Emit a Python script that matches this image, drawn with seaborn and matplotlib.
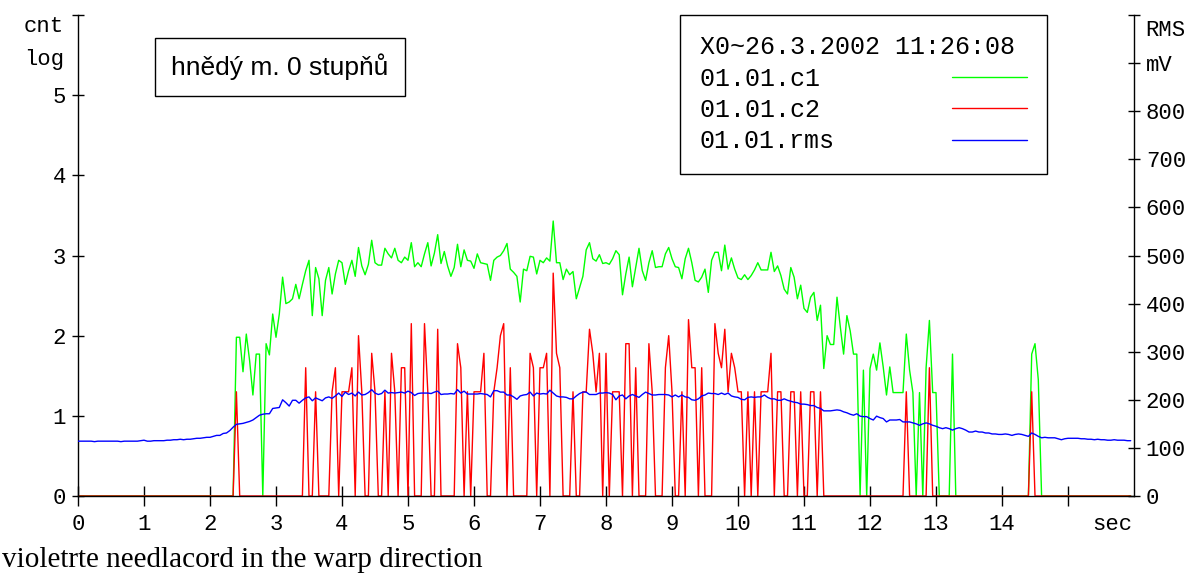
import numpy as np
import pandas as pd
import matplotlib
matplotlib.use("Agg")
import matplotlib.pyplot as plt
import seaborn as sns

# vzorkovani 0.05 s, jeden radek = jedna sekunda
dt = 0.05

# 01.01.c1 (log pocet)
c1 = [
    0, 0, 0, 0, 0, 0, 0, 0, 0, 0, 0, 0, 0, 0, 0, 0, 0, 0, 0, 0,
    0, 0, 0, 0, 0, 0, 0, 0, 0, 0, 0, 0, 0, 0, 0, 0, 0, 0, 0, 0,
    0, 0, 0, 0, 0, 0, 0, 0, 1.98, 1.98, 1.55, 2.02, 1.69, 1.26, 1.77, 1.77, 0, 1.90, 1.76, 2.27,
    1.98, 2.27, 2.73, 2.40, 2.42, 2.46, 2.64, 2.46, 2.64, 2.81, 2.94, 2.25, 2.85, 2.71, 2.25, 2.69, 2.85, 2.52, 2.77, 2.94,
    2.91, 2.64, 2.81, 2.94, 2.74, 3.10, 2.87, 2.76, 2.89, 3.19, 2.91, 2.88, 2.88, 3.09, 3.02, 2.97, 3.09, 2.94, 2.91, 2.98,
    2.94, 3.16, 2.86, 2.91, 2.86, 3.02, 3.16, 2.87, 3.03, 3.26, 2.90, 3.05, 2.87, 2.74, 2.85, 3.14, 2.86, 3.07, 2.94, 2.93,
    2.84, 3.02, 2.91, 2.90, 2.89, 2.69, 2.94, 2.98, 3.00, 3.06, 3.15, 2.83, 2.79, 2.74, 2.42, 2.83, 2.81, 2.99, 2.98, 2.77,
    2.94, 2.91, 2.97, 2.93, 3.43, 2.91, 2.91, 2.70, 2.83, 2.76, 2.80, 2.46, 2.60, 2.74, 3.07, 3.16, 2.96, 2.93, 3.01, 2.90,
    2.91, 2.89, 2.96, 3.06, 3.01, 2.51, 2.77, 2.98, 2.61, 2.85, 3.09, 2.81, 2.69, 2.91, 3.06, 2.85, 2.86, 2.86, 3.02, 3.10,
    2.96, 2.86, 2.85, 2.71, 2.96, 3.09, 2.91, 2.69, 2.67, 2.73, 2.83, 2.54, 2.94, 3.04, 3.04, 2.81, 3.13, 2.83, 2.97, 2.83,
    2.72, 2.70, 2.76, 2.70, 2.75, 2.82, 2.91, 2.82, 2.82, 2.82, 3.04, 2.80, 2.87, 2.75, 2.58, 2.52, 2.85, 2.73, 2.46, 2.63,
    2.34, 2.29, 2.48, 2.54, 2.19, 2.38, 1.59, 2.00, 1.89, 1.89, 2.48, 2.11, 1.77, 2.25, 2.06, 1.77, 1.77, 0, 1.57, 0,
    1.59, 1.77, 1.57, 1.91, 1.61, 1.26, 1.61, 1.29, 1.29, 1.29, 1.29, 2.02, 1.57, 1.29, 0, 1.29, 0, 1.60, 2.19, 1.29,
    1.29, 0, 0, 0, 0, 1.77, 0, 0, 0, 0, 0, 0, 0, 0, 0, 0, 0, 0, 0, 0,
    0, 0, 0, 0, 0, 0, 0, 0, 0, 1.77, 1.90, 1.45, 0, 0, 0, 0, 0, 0, 0, 0,
    0, 0, 0, 0, 0, 0, 0, 0, 0, 0, 0, 0, 0, 0, 0, 0, 0, 0, 0, 0,
]

# 01.01.c2 (log pocet)
c2 = [
    0, 0, 0, 0, 0, 0, 0, 0, 0, 0, 0, 0, 0, 0, 0, 0, 0, 0, 0, 0,
    0, 0, 0, 0, 0, 0, 0, 0, 0, 0, 0, 0, 0, 0, 0, 0, 0, 0, 0, 0,
    0, 0, 0, 0, 0, 0, 0, 0, 1.30, 0, 0, 0, 0, 0, 0, 0, 0, 0, 0, 0,
    0, 0, 0, 0, 0, 0, 0, 0, 0, 1.60, 0, 0, 1.30, 0, 0, 0, 0, 1.30, 1.60, 0,
    1.30, 1.30, 1.30, 1.60, 0, 2.00, 1.30, 0, 0, 1.78, 1.30, 0, 0, 1.30, 0, 1.78, 1.30, 0, 1.60, 1.60,
    0, 2.15, 0, 0, 0, 2.15, 1.30, 0, 0, 2.08, 0, 0, 0, 0, 0, 1.90, 1.60, 0, 1.30, 0,
    1.30, 1.30, 1.30, 1.78, 0, 0, 1.30, 1.60, 2.00, 2.15, 0, 1.60, 0, 0, 0, 0, 0, 1.78, 1.60, 0,
    1.60, 1.60, 1.78, 0, 2.78, 1.78, 1.60, 0, 0, 0, 1.30, 0, 0, 1.30, 1.30, 2.08, 1.78, 1.30, 1.78, 0,
    1.78, 0, 1.30, 1.30, 1.30, 0, 1.90, 1.90, 0, 1.60, 0, 0, 0, 1.90, 1.30, 0, 0, 0, 1.60, 2.00,
    1.30, 0, 0, 1.30, 0, 2.20, 1.60, 1.60, 0, 1.60, 0, 0, 0, 2.15, 1.78, 1.60, 2.08, 1.30, 1.78, 1.60,
    1.30, 1.30, 0, 1.30, 0, 1.30, 0, 1.30, 1.30, 1.30, 1.78, 0, 1.30, 1.30, 0, 0, 1.30, 1.30, 0, 1.30,
    0, 0, 1.30, 1.30, 0, 1.30, 0, 0, 0, 0, 0, 0, 0, 0, 0, 0, 0, 0, 0, 0,
    0, 0, 0, 0, 0, 0, 0, 0, 0, 0, 0, 1.30, 0, 0, 0, 0, 0, 0, 1.60, 0,
    0, 0, 0, 0, 0, 0, 0, 0, 0, 0, 0, 0, 0, 0, 0, 0, 0, 0, 0, 0,
    0, 0, 0, 0, 0, 0, 0, 0, 0, 1.30, 0, 0, 0, 0, 0, 0, 0, 0, 0, 0,
    0, 0, 0, 0, 0, 0, 0, 0, 0, 0, 0, 0, 0, 0, 0, 0, 0, 0, 0, 0,
]

# 01.01.rms (mV)
rms = [
    114, 114, 114, 114, 114, 113, 114, 114, 114, 114, 114, 114, 114, 113, 114, 114, 114, 114, 114, 115,
    116, 114, 114, 115, 115, 115, 115, 116, 116, 117, 117, 118, 117, 118, 118, 119, 120, 120, 121, 122,
    122, 124, 126, 126, 130, 131, 136, 143, 149, 150, 151, 153, 155, 158, 163, 168, 170, 171, 171, 182,
    183, 184, 200, 194, 187, 199, 199, 193, 199, 204, 206, 198, 204, 201, 198, 204, 206, 203, 208, 214,
    207, 216, 211, 214, 208, 216, 210, 211, 215, 221, 214, 211, 213, 220, 214, 215, 214, 215, 216, 214,
    218, 215, 209, 213, 214, 214, 214, 213, 216, 218, 211, 212, 212, 213, 212, 221, 214, 218, 212, 212,
    212, 212, 213, 212, 211, 206, 219, 219, 216, 216, 210, 210, 206, 201, 208, 210, 211, 216, 208, 214,
    212, 213, 212, 220, 214, 208, 206, 206, 205, 202, 202, 208, 213, 216, 216, 211, 211, 211, 214, 214,
    215, 214, 211, 200, 208, 210, 202, 208, 211, 208, 205, 211, 216, 213, 210, 210, 211, 211, 211, 210,
    206, 210, 206, 210, 206, 205, 200, 199, 202, 208, 210, 214, 213, 213, 211, 214, 211, 214, 208, 206,
    205, 201, 200, 205, 206, 205, 206, 206, 210, 205, 202, 202, 199, 199, 202, 199, 197, 195, 194, 191,
    191, 190, 188, 188, 184, 182, 177, 177, 177, 178, 179, 178, 175, 173, 170, 168, 171, 166, 165, 165,
    161, 158, 166, 163, 161, 154, 158, 158, 158, 159, 154, 154, 154, 152, 150, 147, 150, 152, 150, 147,
    145, 142, 140, 142, 140, 137, 140, 142, 140, 137, 133, 133, 135, 133, 133, 131, 131, 129, 129, 128,
    128, 129, 128, 126, 128, 129, 128, 126, 124, 131, 128, 124, 121, 122, 121, 121, 121, 119, 117, 119,
    120, 120, 120, 120, 119, 119, 118, 118, 117, 118, 117, 117, 116, 116, 117, 116, 116, 116, 115, 115,
]

x_labels = [str(i) for i in range(15)] + ['']
left_labels = ['0', '1', '2', '3', '4', '5', '']
right_labels = ['0', '100', '200', '300', '400', '500', '600', '700', '800', 'mV', '']
series_names = ['01.01.c1 ', '01.01.c2 ', '01.01.rms']

df = pd.DataFrame({'sec': np.arange(len(rms)) * dt, 'c1': c1, 'c2': c2, 'rms': rms})

sns.set_theme(style="white")
plt.rcParams['font.family'] = ['Liberation Mono', 'DejaVu Sans']
plt.rcParams.update({'axes.edgecolor': 'black', 'xtick.color': 'black', 'ytick.color': 'black',
                     'text.color': 'black', 'axes.labelcolor': 'black', 'axes.linewidth': 1.0})

fig = plt.figure(figsize=(11.96, 5.79), dpi=100)
ax = fig.add_axes([78 / 1196, 83 / 579, 1056 / 1196, 481 / 579])
ax2 = ax.twinx()

sns.lineplot(data=df, x='sec', y='c1', ax=ax, color='#00ff00', lw=1.0, estimator=None, legend=False)
sns.lineplot(data=df, x='sec', y='c2', ax=ax, color='#ff0000', lw=1.0, estimator=None, legend=False)
sns.lineplot(data=df, x='sec', y='rms', ax=ax2, color='#0000ff', lw=1.0, estimator=None, legend=False)

ax.set_xlim(0, 16)
ax.set_ylim(0, 6)
ax2.set_ylim(0, 1000)
ax.set_xticks(range(16))
ax.set_xticklabels(x_labels)
ax.set_yticks(range(7))
ax.set_yticklabels(left_labels)
ax2.set_yticks(range(0, 1001, 100))
ax2.set_yticklabels(right_labels)
for a in (ax, ax2):
    a.set_xlabel('')
    a.set_ylabel('')
    a.spines['top'].set_visible(False)
ax.spines['right'].set_visible(False)
ax2.spines['left'].set_visible(False)
ax2.spines['bottom'].set_visible(False)

ax.tick_params(axis='x', bottom=True, direction='inout', length=14, width=1, labelsize=16, pad=6)
ax.tick_params(axis='y', left=True, direction='inout', length=9, width=1, labelsize=16, pad=4)
ax2.tick_params(axis='y', right=True, direction='inout', length=9, width=1, labelsize=16, pad=4)

fig.text(64 / 1196, 1 - 27 / 579, 'cnt', ha='right', va='center', size=16)
fig.text(64 / 1196, 1 - 60 / 579, 'log', ha='right', va='center', size=16)
fig.text(1145 / 1196, 1 - 30 / 579, 'RMS', ha='left', va='center', size=16)
fig.text(1112 / 1196, 1 - 524 / 579, 'sec', ha='center', va='center', size=16)

fig.text(280 / 1196, 1 - 67 / 579, 'hnědý m. 0 stupňů', family='Liberation Sans', size=19,
         ha='center', va='center',
         bbox=dict(boxstyle='square,pad=0.6', fc='white', ec='black', lw=1))

handles = [ax.lines[0], ax.lines[1], ax2.lines[0]]
leg = ax2.legend(handles, series_names, title='X0~26.3.2002 11:26:08',
                 loc='upper right', bbox_to_anchor=(1047 / 1196, 1 - 15 / 579),
                 bbox_transform=fig.transFigure, borderaxespad=0,
                 markerfirst=False, frameon=True, fancybox=False, framealpha=1,
                 edgecolor='black', prop={'family': 'Liberation Mono', 'size': 18},
                 title_fontproperties={'family': 'Liberation Mono', 'size': 18},
                 handlelength=3.0, handletextpad=4.7, labelspacing=0.3,
                 borderpad=0.8, alignment='left')
leg.get_frame().set_linewidth(1)

fig.text(2 / 1196, 1 - 560 / 579, 'violetrte needlacord in the warp direction',
         family='Liberation Serif', size=21, ha='left', va='center')

fig.savefig('out.png', dpi=100)
